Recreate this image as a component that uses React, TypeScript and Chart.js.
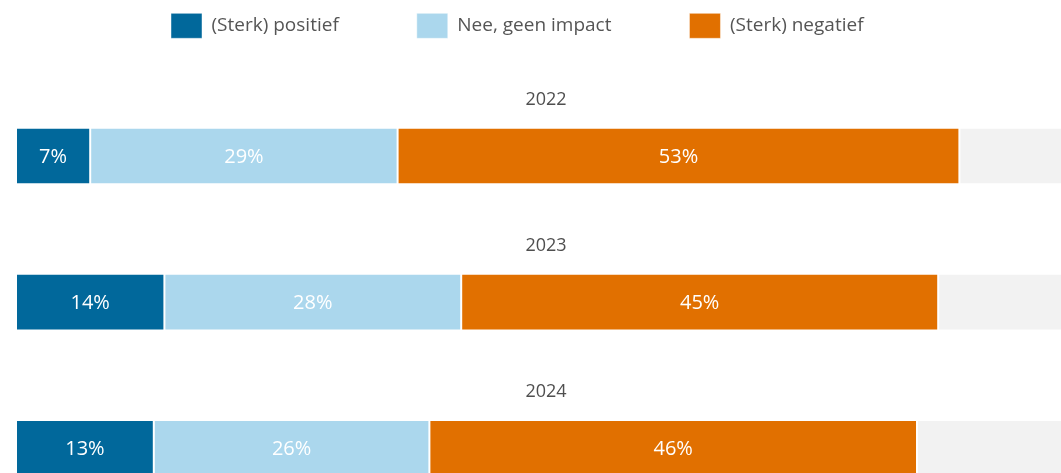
import React, { useEffect, useRef } from "react";
import { Chart, registerables } from "chart.js";

Chart.register(...registerables);

// ---- data ----
const categories = ["2022", "2023", "2024"];
const seriesNames = ["(Sterk) positief", "Nee, geen impact", "(Sterk) negatief"];
const positief = [7, 14, 13];
const geenImpact = [29, 28, 26];
const negatief = [53, 45, 46];
const overig = [11, 13, 15];

// ---- styles ----
const seriesColors = ["#01689B", "#ABD7ED", "#E17000"];
const restColor = "#F2F2F2";
const segmentBorder = "rgba(255,255,255,0.45)";
const FONT = "'Open Sans', 'Noto Sans', sans-serif";
const CANVAS_W = 1080;
const CANVAS_H = 530;
const LEGEND_LEFT = 163;
const LEGEND_TOP = 5.3;
const LEGEND_PAD = 78;

const legendPlacement = {
  id: "legendPlacement",
  afterLayout(chart: any) {
    const lg = chart.legend;
    if (!lg) return;
    lg.left = LEGEND_LEFT - LEGEND_PAD;
    lg.top = LEGEND_TOP - LEGEND_PAD;
  },
};

const segmentLabels = {
  id: "segmentLabels",
  afterDatasetsDraw(chart: any) {
    const ctx = chart.ctx;
    ctx.save();
    ctx.font = `20px ${FONT}`;
    ctx.fillStyle = "#ffffff";
    ctx.textAlign = "center";
    ctx.textBaseline = "middle";
    chart.data.datasets.forEach((ds: any, di: number) => {
      if (!ds.showValues) return;
      const meta = chart.getDatasetMeta(di);
      meta.data.forEach((el: any, i: number) => {
        const { x, base, y } = el.getProps(["x", "base", "y"], true);
        ctx.fillText(`${ds.data[i]}%`, (x + base) / 2, y + 1);
      });
    });
    ctx.restore();
  },
};

const yearLabels = {
  id: "yearLabels",
  afterDraw(chart: any) {
    const ctx = chart.ctx;
    const yScale = chart.scales.y;
    const { left, right } = chart.chartArea;
    ctx.save();
    ctx.font = `18px ${FONT}`;
    ctx.fillStyle = "#4f4f4f";
    ctx.textAlign = "center";
    ctx.textBaseline = "alphabetic";
    chart.data.labels.forEach((lab: string, i: number) => {
      ctx.fillText(lab, (left + right) / 2, yScale.getPixelForValue(i) - 51);
    });
    ctx.restore();
  },
};

export default function App() {
  const ref = useRef<HTMLCanvasElement | null>(null);

  useEffect(() => {
    if (!ref.current) return;
    Chart.defaults.font.family = FONT;
    const mk = (label: string, data: number[], color: string, showValues: boolean) => ({
      label,
      data,
      backgroundColor: color,
      borderColor: segmentBorder,
      borderWidth: 1,
      borderSkipped: false,
      barPercentage: 0.388,
      categoryPercentage: 1,
      showValues,
    });
    const chart = new Chart(ref.current, {
      type: "bar",
      data: {
        labels: categories,
        datasets: [
          mk(seriesNames[0], positief, seriesColors[0], true),
          mk(seriesNames[1], geenImpact, seriesColors[1], true),
          mk(seriesNames[2], negatief, seriesColors[2], true),
          mk("Overig", overig, restColor, false),
        ] as any,
      },
      options: {
        indexAxis: "y",
        responsive: false,
        animation: false,
        layout: { padding: { left: 8, right: 12, top: 44.9, bottom: 16.5 } },
        scales: {
          x: { stacked: true, min: 0, max: 100, display: false },
          y: { stacked: true, display: false },
        },
        plugins: {
          tooltip: { enabled: false },
          legend: {
            display: true,
            position: "top",
            align: "start",
            maxHeight: 30,
            labels: {
              boxWidth: 31,
              boxHeight: 25,
              padding: LEGEND_PAD,
              color: "#555555",
              font: { size: 19, family: FONT },
              filter: (item: any) => item.datasetIndex < 3,
            },
          },
        },
      } as any,
      plugins: [legendPlacement, segmentLabels, yearLabels],
    });
    return () => chart.destroy();
  }, []);

  return (
    <div
      style={{
        position: "fixed",
        left: 8,
        top: 8,
        width: 1053,
        height: 465,
        overflow: "hidden",
        background: "#ffffff",
      }}
    >
      <canvas
        ref={ref}
        width={CANVAS_W}
        height={CANVAS_H}
        style={{ display: "block", width: CANVAS_W, height: CANVAS_H }}
      />
    </div>
  );
}
